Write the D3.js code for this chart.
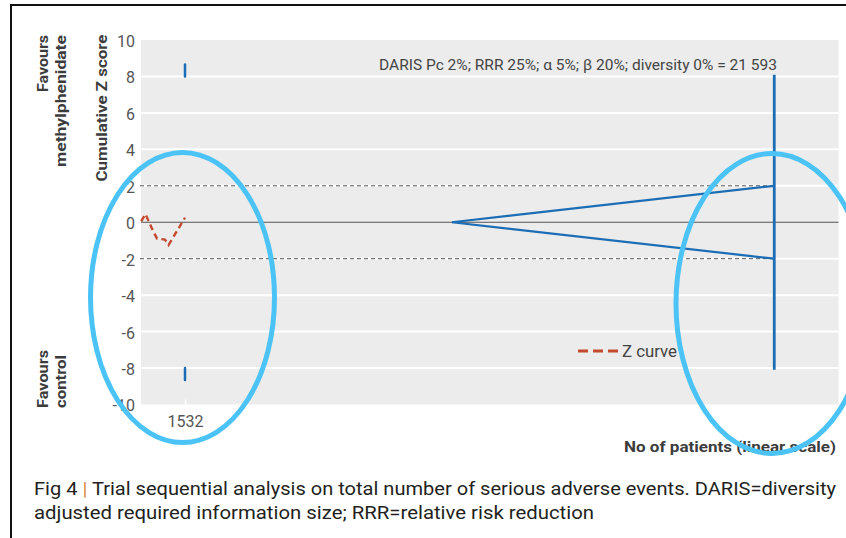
<!DOCTYPE html>
<html>
<head>
<meta charset="utf-8">
<script src="https://cdn.jsdelivr.net/npm/d3@7"></script>
<style>
  body { margin: 0; background: #fff; }
  svg { display: block; }
  text { font-family: "Liberation Sans Narrow", "Roboto", "Open Sans", sans-serif; }
</style>
</head>
<body>
<svg id="chart" width="846" height="538"></svg>
<script>
// ---- data ----
const yTicks = [-10, -8, -6, -4, -2, 0, 2, 4, 6, 8, 10];
const xTicks = [1532];
const xMax = 23780;                 // right end of the patient axis
const requiredSize = 21593;         // DARIS
const conventionalZ = [2, -2];      // conventional boundaries (dashed)
const wedgeApexN = 10620;           // inner wedge starts here
const wedgeEndZ = [2, -2];          // inner wedge at the required size
const darisLineZ = [-8.1, 8.1];     // vertical line at the required size
const monitorN = [1532];            // monitoring boundary at first look
const monitorUpper = [8.0, 8.65];
const monitorLower = [-8.0, -8.65];
const zCurveN = [40, 187, 409, 579, 851, 971, 1532];
const zCurveZ = [0.05, 0.45, -0.35, -0.9, -0.95, -1.25, 0.25];
const darisLabel = "DARIS Pc 2%; RRR 25%; \u03b1 5%; \u03b2 20%; diversity 0% = 21 593";
const captionLine1 = ["Fig 4 ", "|", " Trial sequential analysis on total number of serious adverse events. DARIS=diversity"];
const captionLine2 = "adjusted required information size; RRR=relative risk reduction";

// ---- layout ----
const svg = d3.select("#chart");
const plot = { left: 141, right: 838.5, top: 40, bottom: 404.5 };

const x = d3.scaleLinear().domain([0, xMax]).range([140, plot.right]);
const y = d3.scaleLinear().domain([-10, 10]).range([plot.bottom, plot.top]);

const blue = "#1b6db5";
const red = "#c44a2f";
const grey = "#555";

// frame lines
svg.append("line").attr("x1", 10).attr("x2", 846).attr("y1", 5).attr("y2", 5)
  .attr("stroke", "#111").attr("stroke-width", 2);
svg.append("line").attr("x1", 11).attr("x2", 11).attr("y1", 4).attr("y2", 538)
  .attr("stroke", "#111").attr("stroke-width", 2);

// plot background
svg.append("rect")
  .attr("x", plot.left).attr("y", plot.top)
  .attr("width", plot.right - plot.left).attr("height", plot.bottom - plot.top)
  .attr("fill", "#ebeceb");

// white gridlines
svg.append("g").selectAll("line")
  .data(yTicks.filter(d => d !== 10 && d !== -10 && d !== 0))
  .join("line")
  .attr("x1", plot.left).attr("x2", plot.right)
  .attr("y1", d => y(d)).attr("y2", d => y(d))
  .attr("stroke", "#fff").attr("stroke-width", 2);

// y axis labels (plain hyphen for negatives)
const yAxis = d3.axisLeft(y).tickValues(yTicks).tickSize(0).tickPadding(6)
  .tickFormat(d => String(d));
const gy = svg.append("g").attr("transform", `translate(${plot.left},0)`).call(yAxis);
gy.select(".domain").remove();
gy.selectAll("text")
  .attr("fill", grey).style("font-size", "16px")
  .attr("dy", "0.4em");

// x axis ticks
const xAxis = d3.axisBottom(x).tickValues(xTicks).tickSize(5).tickPadding(8)
  .tickFormat(d => String(d));
const gx = svg.append("g").attr("transform", `translate(0,${plot.bottom - 5})`).call(xAxis);
gx.select(".domain").remove();
gx.selectAll("line").attr("stroke", "#fff").attr("stroke-width", 1.5);
gx.selectAll("text").attr("fill", grey).style("font-size", "16px").attr("dy", "0.9em");

// zero line
svg.append("line")
  .attr("x1", plot.left).attr("x2", plot.right)
  .attr("y1", y(0)).attr("y2", y(0))
  .attr("stroke", grey).attr("stroke-width", 1.2);

// conventional boundaries
svg.append("g").selectAll("line").data(conventionalZ).join("line")
  .attr("x1", x(0)).attr("x2", x(requiredSize))
  .attr("y1", d => y(d)).attr("y2", d => y(d))
  .attr("stroke", grey).attr("stroke-width", 1)
  .attr("stroke-dasharray", "4,3");

// inner wedge
svg.append("g").selectAll("line").data(wedgeEndZ).join("line")
  .attr("x1", x(wedgeApexN)).attr("y1", y(0))
  .attr("x2", x(requiredSize)).attr("y2", d => y(d))
  .attr("stroke", blue).attr("stroke-width", 2.2);

// vertical line at the required information size
svg.append("line")
  .attr("x1", x(requiredSize)).attr("x2", x(requiredSize))
  .attr("y1", y(darisLineZ[0])).attr("y2", y(darisLineZ[1]))
  .attr("stroke", blue).attr("stroke-width", 2.8);

// monitoring boundary marks
[monitorUpper, monitorLower].forEach(seg => {
  svg.append("g").selectAll("line").data(monitorN).join("line")
    .attr("x1", d => x(d)).attr("x2", d => x(d))
    .attr("y1", y(seg[0])).attr("y2", y(seg[1]))
    .attr("stroke", blue).attr("stroke-width", 2.5).attr("stroke-linecap", "round");
});

// Z curve
const zData = zCurveN.map((n, i) => [n, zCurveZ[i]]);
svg.append("path")
  .datum(zData)
  .attr("d", d3.line().x(d => x(d[0])).y(d => y(d[1])))
  .attr("fill", "none").attr("stroke", red).attr("stroke-width", 2.4)
  .attr("stroke-dasharray", "6,4");

// DARIS label
svg.append("text")
  .attr("x", 777).attr("y", 69.5).attr("text-anchor", "end")
  .attr("textLength", 398).attr("lengthAdjust", "spacingAndGlyphs")
  .attr("fill", "#444").style("font-size", "14px")
  .text(darisLabel);

// legend
svg.append("line")
  .attr("x1", 578).attr("x2", 618).attr("y1", 351).attr("y2", 351)
  .attr("stroke", red).attr("stroke-width", 2.8).attr("stroke-dasharray", "10,5");
svg.append("text")
  .attr("x", 622).attr("y", 356.5)
  .attr("textLength", 55).attr("lengthAdjust", "spacingAndGlyphs")
  .attr("fill", "#444").style("font-size", "16px")
  .text("Z curve");

// axis titles
svg.append("text")
  .attr("transform", "translate(107,108) rotate(-90)")
  .attr("text-anchor", "middle")
  .attr("textLength", 147).attr("lengthAdjust", "spacingAndGlyphs")
  .attr("fill", "#3c3c3c").style("font-size", "15px").style("font-weight", "bold")
  .text("Cumulative Z score");

const favTop = svg.append("text")
  .attr("transform", "translate(0,35) rotate(-90)")
  .attr("text-anchor", "end")
  .attr("fill", "#3c3c3c").style("font-size", "15px").style("font-weight", "bold");
favTop.append("tspan").attr("x", 0).attr("y", 48).attr("textLength", 57)
  .attr("lengthAdjust", "spacingAndGlyphs").text("Favours");
favTop.append("tspan").attr("x", 0).attr("y", 66).attr("textLength", 132)
  .attr("lengthAdjust", "spacingAndGlyphs").text("methylphenidate");

const favBottom = svg.append("text")
  .attr("transform", "translate(0,408) rotate(-90)")
  .attr("text-anchor", "start")
  .attr("fill", "#3c3c3c").style("font-size", "15px").style("font-weight", "bold");
favBottom.append("tspan").attr("x", 0).attr("y", 48).attr("textLength", 58)
  .attr("lengthAdjust", "spacingAndGlyphs").text("Favours");
favBottom.append("tspan").attr("x", 0).attr("y", 66).attr("textLength", 53)
  .attr("lengthAdjust", "spacingAndGlyphs").text("control");

svg.append("text")
  .attr("x", 836).attr("y", 451.5).attr("text-anchor", "end")
  .attr("textLength", 212).attr("lengthAdjust", "spacingAndGlyphs")
  .attr("fill", "#3c3c3c").style("font-size", "15px").style("font-weight", "bold")
  .text("No of patients (linear scale)");

// highlight ellipses
const ring = "#4bc3f6";
svg.append("ellipse").attr("cx", 182.5).attr("cy", 297.5).attr("rx", 92).attr("ry", 145)
  .attr("fill", "none").attr("stroke", ring).attr("stroke-width", 5);
svg.append("ellipse").attr("cx", 772).attr("cy", 303.5).attr("rx", 96).attr("ry", 150)
  .attr("fill", "none").attr("stroke", ring).attr("stroke-width", 5);

// caption
const cap1 = svg.append("text")
  .attr("x", 34).attr("y", 494.5)
  .attr("textLength", 802).attr("lengthAdjust", "spacingAndGlyphs")
  .attr("fill", "#231f20").style("font-size", "19px");
cap1.append("tspan").text(captionLine1[0]);
cap1.append("tspan").attr("fill", "#d98a3a").text(captionLine1[1]);
cap1.append("tspan").text(captionLine1[2]);

svg.append("text")
  .attr("x", 34).attr("y", 518.5)
  .attr("textLength", 560).attr("lengthAdjust", "spacingAndGlyphs")
  .attr("fill", "#231f20").style("font-size", "19px")
  .text(captionLine2);
</script>
</body>
</html>
